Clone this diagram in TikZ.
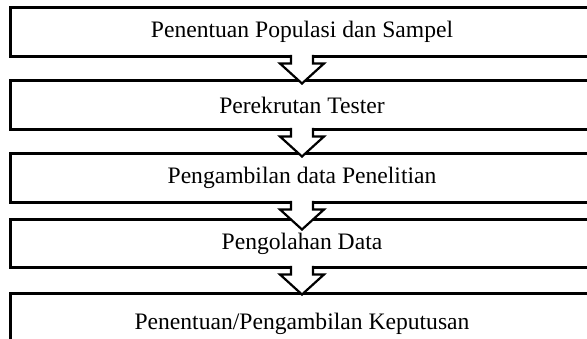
\documentclass[tikz,border=0pt]{standalone}
\usepackage{fontspec}
\setmainfont{Liberation Serif}
\begin{document}
\begin{tikzpicture}[x=1pt,y=-1pt,
  box/.style={draw=black, line width=2.8pt, minimum width=583pt, minimum height=49pt,
    inner sep=0pt, outer sep=0pt, anchor=north, font=\fontsize{23.6}{28}\selectfont},
  blockarrow/.style={fill=white, draw=black, line width=2.2pt, line join=miter, miter limit=10}]
\useasboundingbox (0,0) rectangle (587,339);
\clip (0,0) rectangle (587,339);
\fill[white] (0,0) rectangle (587,339);
\node[box] (b1) at (302,7.5) {Penentuan Populasi dan Sampel};
\node[box] (b2) at (302,80.5) {Perekrutan Tester};
\node[box] (b3) at (302,153.5) {Pengambilan data Penelitian};
\node[box, minimum height=48pt] (b4) at (302,219.5) {Pengolahan Data};
\node[box, minimum height=60pt] (b5) at (302,293.5) {Penentuan/Pengambilan Keputusan};
\foreach \s in {b1,b2,b3,b4}{
  \path[blockarrow] ([xshift=-11pt,yshift=1.6pt]\s.south) -- ++(0,8.6) -- ++(-11,0)
     -- ++(22,20) -- ++(22,-20) -- ++(-11,0) -- ++(0,-8.6);
}
\end{tikzpicture}
\end{document}
